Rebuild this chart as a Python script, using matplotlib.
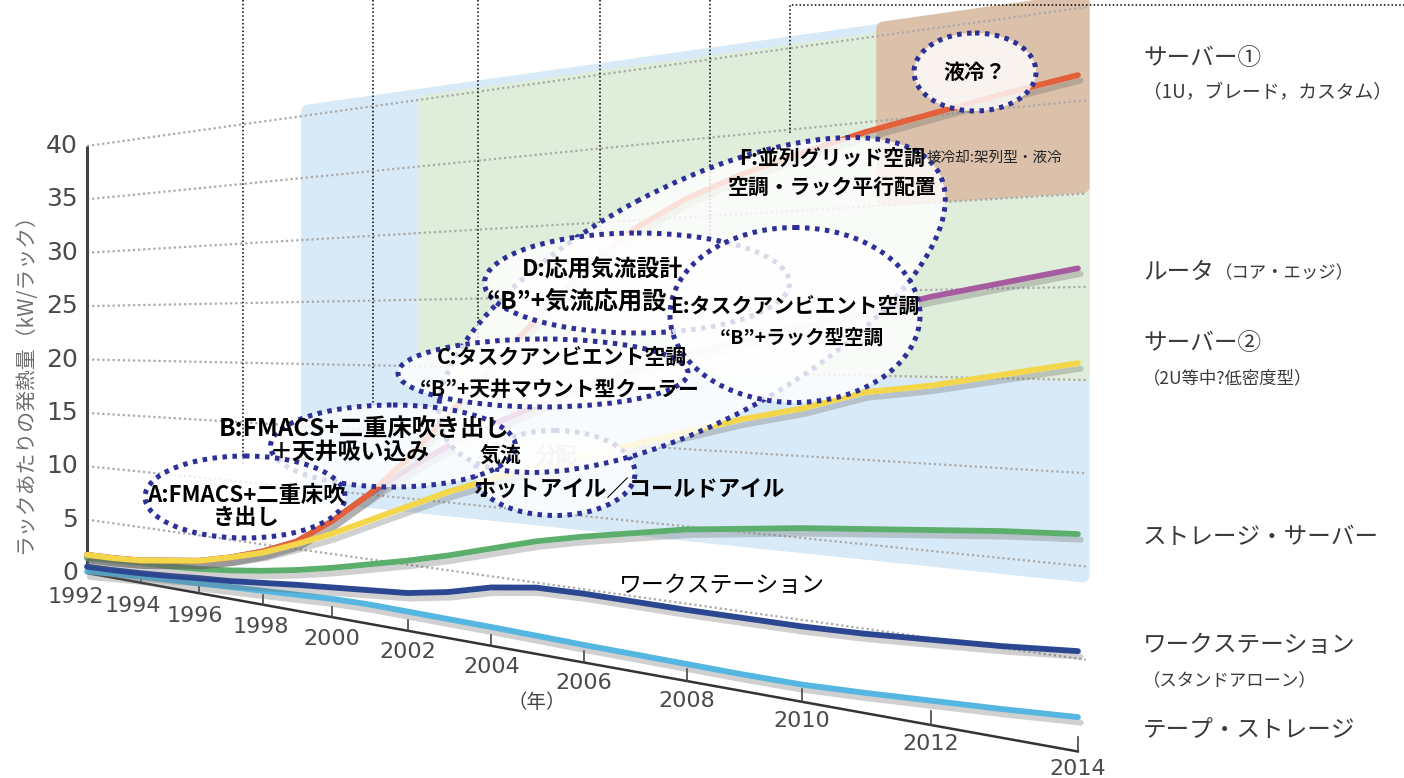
import numpy as np
import matplotlib
matplotlib.use("Agg")
import matplotlib.pyplot as plt
from matplotlib.transforms import Transform
from matplotlib.patches import Ellipse, Polygon
import matplotlib.patheffects as pe

# ---------------------------------------------------------------- data
years = list(range(1992, 2015))

server1 = [1.7, 1.8, 2.0, 2.4, 2.8, 3.5, 4.4, 5.6, 7.6, 10.0, 13.0, 16.5,
           20.0, 23.5, 26.8, 29.4, 31.2, 32.5, 33.5, 34.4, 35.1, 35.8, 36.4]
router = [1.7, 1.8, 2.0, 2.4, 2.8, 3.5, 4.4, 5.6, 7.6, 10.0, 12.2, 14.2,
          15.9, 17.4, 18.8, 20.0, 21.1, 22.0, 22.9, 23.7, 24.6, 25.3, 26.0]
server2 = [1.7, 1.8, 2.0, 2.4, 2.8, 3.5, 4.3, 5.4, 6.6, 8.0, 9.4, 10.8,
           12.0, 13.1, 14.1, 15.1, 16.1, 17.1, 17.9, 19.0, 19.5, 20.2, 20.9]
storage = [1.4, 1.6, 1.8, 1.9, 2.1, 2.4, 2.8, 3.3, 3.9, 4.6, 5.3, 6.1,
           7.0, 7.9, 8.6, 9.2, 9.8, 10.2, 10.6, 10.9, 11.2, 11.5, 11.7]
workstation = [0.6, 0.7, 0.85, 1.05, 1.3, 1.5, 1.8, 2.1, 2.35, 2.6, 2.85, 3.4,
               4.2, 4.65, 4.7, 4.65, 4.6, 4.6, 4.6, 4.7, 4.9, 5.1, 5.4]
tape = [0.15, 0.35, 0.55, 0.7, 0.85, 1.0, 1.15, 1.3, 1.45, 1.5, 1.45, 1.4,
        1.35, 1.28, 1.2, 1.15, 1.1, 1.05, 1.05, 1.2, 1.4, 1.6, 1.85]

x_ticks = list(range(1992, 2015, 2))
y_ticks = [0, 5, 10, 15, 20, 25, 30, 35, 40]

# cooling eras shaded on the chart plane: (year_from, year_to, kw_from, kw_to)
era_blue = (1999.33, 2014.06, 9.5, 40.3)
era_green = (2002.43, 2014.06, 20.3, 39.8)
era_brown = (2011.29, 2014.06, 30.4, 40.4)

series_labels = [
    ("サーバー①", 58, 17), ("（1U，ブレード，カスタム）", 93, 13.5),
    ("サーバー②", 343, 17), ("（2U等中?低密度型）", 378, 12.5),
    ("ストレージ・サーバー", 538, 17),
    ("ワークステーション", 646, 17), ("（スタンドアローン）", 681, 12.5),
    ("テープ・ストレージ", 730, 17),
]

# ---------------------------------------------------------------- figure
W, H = 1404, 778
fig = plt.figure(figsize=(W / 100, H / 100), dpi=100)
ax = fig.add_axes([0, 0, 1, 1])
ax.set_xlim(0, W)
ax.set_ylim(H, 0)
ax.axis("off")

JP = ["Noto Sans CJK JP", "DejaVu Sans"]
NUM = ["DejaVu Sans"]


class PlanePerspective(Transform):
    """Maps (year, kW) on a receding chart plane to pixel coordinates."""
    input_dims = 2
    output_dims = 2
    is_separable = False
    has_inverse = False

    def __init__(self, t0, x0, y0, px_per_kw, vx, vy, g):
        super().__init__()
        self.t0, self.x0, self.y0 = t0, x0, y0
        self.s, self.vx, self.vy, self.g = px_per_kw, vx, vy, g

    def transform_non_affine(self, values):
        values = np.asarray(values, dtype=float).reshape(-1, 2)
        t, v = values[:, 0], values[:, 1]
        k = 1.0 / (1.0 - self.g * (t - self.t0))
        X = self.vx + (self.x0 - self.vx) * k
        Y = self.vy + (self.y0 - self.vy - self.s * v) * k
        return np.column_stack([X, Y])


plane = PlanePerspective(t0=1992, x0=87, y0=573, px_per_kw=10.675,
                         vx=-1251, vy=332, g=0.01934)
T = plane + ax.transData


def to_px(t, v):
    return plane.transform_non_affine(np.array([[t, v]]))[0]


# ---------------------------------------------------------------- era panels
def era(rect, color, z):
    t0, t1, v0, v1 = rect
    pts = [(t0, v0), (t1, v0), (t1, v1), (t0, v1)]
    ax.add_patch(Polygon(pts, closed=True, facecolor=color, edgecolor=color,
                         linewidth=10, joinstyle="round", transform=T,
                         zorder=z))


era(era_blue, "#d8eaf8", 1)
era(era_green, "#deeedb", 2)
era(era_brown, "#dbc1a9", 3)

# ---------------------------------------------------------------- grid & axes
for v in y_ticks[1:]:
    ax.plot([1992, 2014.1], [v, v], transform=T, color="#aaaaaa", lw=1.6,
            linestyle=(0, (1, 1.3)), zorder=4)

ax.plot([1992, 1992], [0, 40], transform=T, color="#444444", lw=2.2, zorder=5,
        solid_capstyle="butt")
ax.plot([1992, 2014], [0, 0], transform=T, color="#333333", lw=1.8, zorder=5)
for yr in x_ticks[1:]:
    ax.plot([yr, yr], [0, 0.8], transform=T, color="#444444", lw=1.2, zorder=5)

for v in y_ticks:
    x, y = to_px(1992, v)
    ax.text(x - 9, y, str(v), ha="right", va="center", fontsize=18,
            family=NUM, color="#4a4a4a")

for yr in x_ticks:
    x, y = to_px(yr, 0)
    frac = (yr - 1992) / 22
    ax.text(x + min(0, -11 + 1.6 * (yr - 1992)), y + 24 - 6 * frac, str(yr),
            ha="center", va="center", fontsize=16, family=NUM,
            color="#4a4a4a")

ax.text(537, 703, "（年）", ha="center", va="center", fontsize=14, family=JP,
        color="#444444")
ax.text(25, 378, "ラックあたりの発熱量（kW/ラック）", rotation=90, ha="center",
        va="center", fontsize=15, family=JP, color="#707070")

# ---------------------------------------------------------------- trend lines
shadow = [pe.SimpleLineShadow(offset=(2, -4), shadow_color="#666666",
                              alpha=0.3), pe.Normal()]
lines = [
    (tape, "#55b6e2", 6),
    (workstation, "#2c4792", 6.1),
    (storage, "#5cae6c", 6.2),
    (router, "#a65ba0", 6.3),
    (server1, "#e2603a", 6.4),
    (server2, "#f3d64a", 6.5),
]
for vals, col, z in lines:
    ax.plot(years, vals, transform=T, color=col, lw=4.2, zorder=z,
            solid_capstyle="round", solid_joinstyle="round",
            path_effects=shadow)

# ---------------------------------------------------------------- guide lines
dot_kw = dict(color="black", lw=1.1, linestyle=(0, (1, 1.5)), zorder=9)
for x, yb in [(243, 465), (373, 405), (478, 343), (600, 257), (710, 279)]:
    ax.plot([x, x], [0, yb], **dot_kw)
ax.plot([790, 790, W], [133, 5, 5], **dot_kw)

# ---------------------------------------------------------------- callouts
NAVY = "#2d3196"


def callout(cx, cy, w, h, angle=0, z=10, alpha=0.82):
    ax.add_patch(Ellipse((cx, cy), w, h, angle=angle, facecolor="white",
                         alpha=alpha, edgecolor="none", zorder=z))
    ax.add_patch(Ellipse((cx, cy), w, h, angle=angle, facecolor="none",
                         edgecolor=NAVY, lw=3.6, linestyle=(0, (0.9, 1.1)),
                         zorder=z + 0.05))


callout(555, 473, 160, 85, z=10)               # airflow distribution
callout(692, 305, 560, 235, angle=-28, z=11)   # F
callout(637, 283, 305, 100, z=12)              # D
callout(795, 315, 250, 175, z=13)              # E
callout(543, 373, 290, 68, z=14)               # C
callout(393, 446, 245, 82, z=15)               # B
callout(245, 497, 200, 82, z=16)               # A
callout(975, 72, 122, 78, z=16)                # liquid

bold = dict(family=JP, fontweight="bold", color="black", fontsize=15,
            ha="center", va="center", zorder=20)
ax.text(246, 495, "A:FMACS+二重床吹", **{**bold, "fontsize": 16})
ax.text(246, 518, "き出し", **{**bold, "fontsize": 16})
ax.text(364, 430, "B:FMACS+二重床吹き出し", **{**bold, "fontsize": 17.5})
ax.text(350, 452, "＋天井吸い込み", **{**bold, "fontsize": 16.5})
ax.text(562, 357, "C:タスクアンビエント空調", **bold)
ax.text(560, 389, "“B”+天井マウント型クーラー", **bold)
ax.text(602, 270, "D:応用気流設計", **{**bold, "fontsize": 16.5})
ax.text(577, 302, "“B”+気流応用設", **{**bold, "fontsize": 17.5})
ax.text(795, 306, "E:タスクアンビエント空調", **bold)
ax.text(802, 338, "“B”+ラック型空調", **{**bold, "fontsize": 14})
ax.text(832, 158, "F:並列グリッド空調", **bold)
ax.text(832, 187, "空調・ラック平行配置", **bold)
ax.text(975, 72, "液冷？", **bold)
ax.text(500, 455, "気流", **bold)
ax.text(557, 455, "分配", **{**bold, "color": "#c9c9d4", "zorder": 10.5})
ax.text(630, 490, "ホットアイル／コールドアイル", **{**bold, "fontsize": 16})
ax.text(927, 158, "接冷却:架列型・液冷", family=JP, fontsize=10.5,
        color="#222222", ha="left", va="center", zorder=20)
ax.text(722, 585, "ワークステーション", family=JP, fontsize=16.5,
        color="black", ha="center", va="center", zorder=20)

# ---------------------------------------------------------------- series names
for text, y, fs in series_labels:
    ax.text(1143, y, text, family=JP, fontsize=fs, color="#3a3a3a",
            ha="left", va="center")
ax.text(1143, 272, "ルータ", family=JP, fontsize=17, color="#3a3a3a",
        ha="left", va="center")
ax.text(1215, 273, "（コア・エッジ）", family=JP, fontsize=12.5,
        color="#3a3a3a", ha="left", va="center")

fig.savefig("out.png", dpi=100)
